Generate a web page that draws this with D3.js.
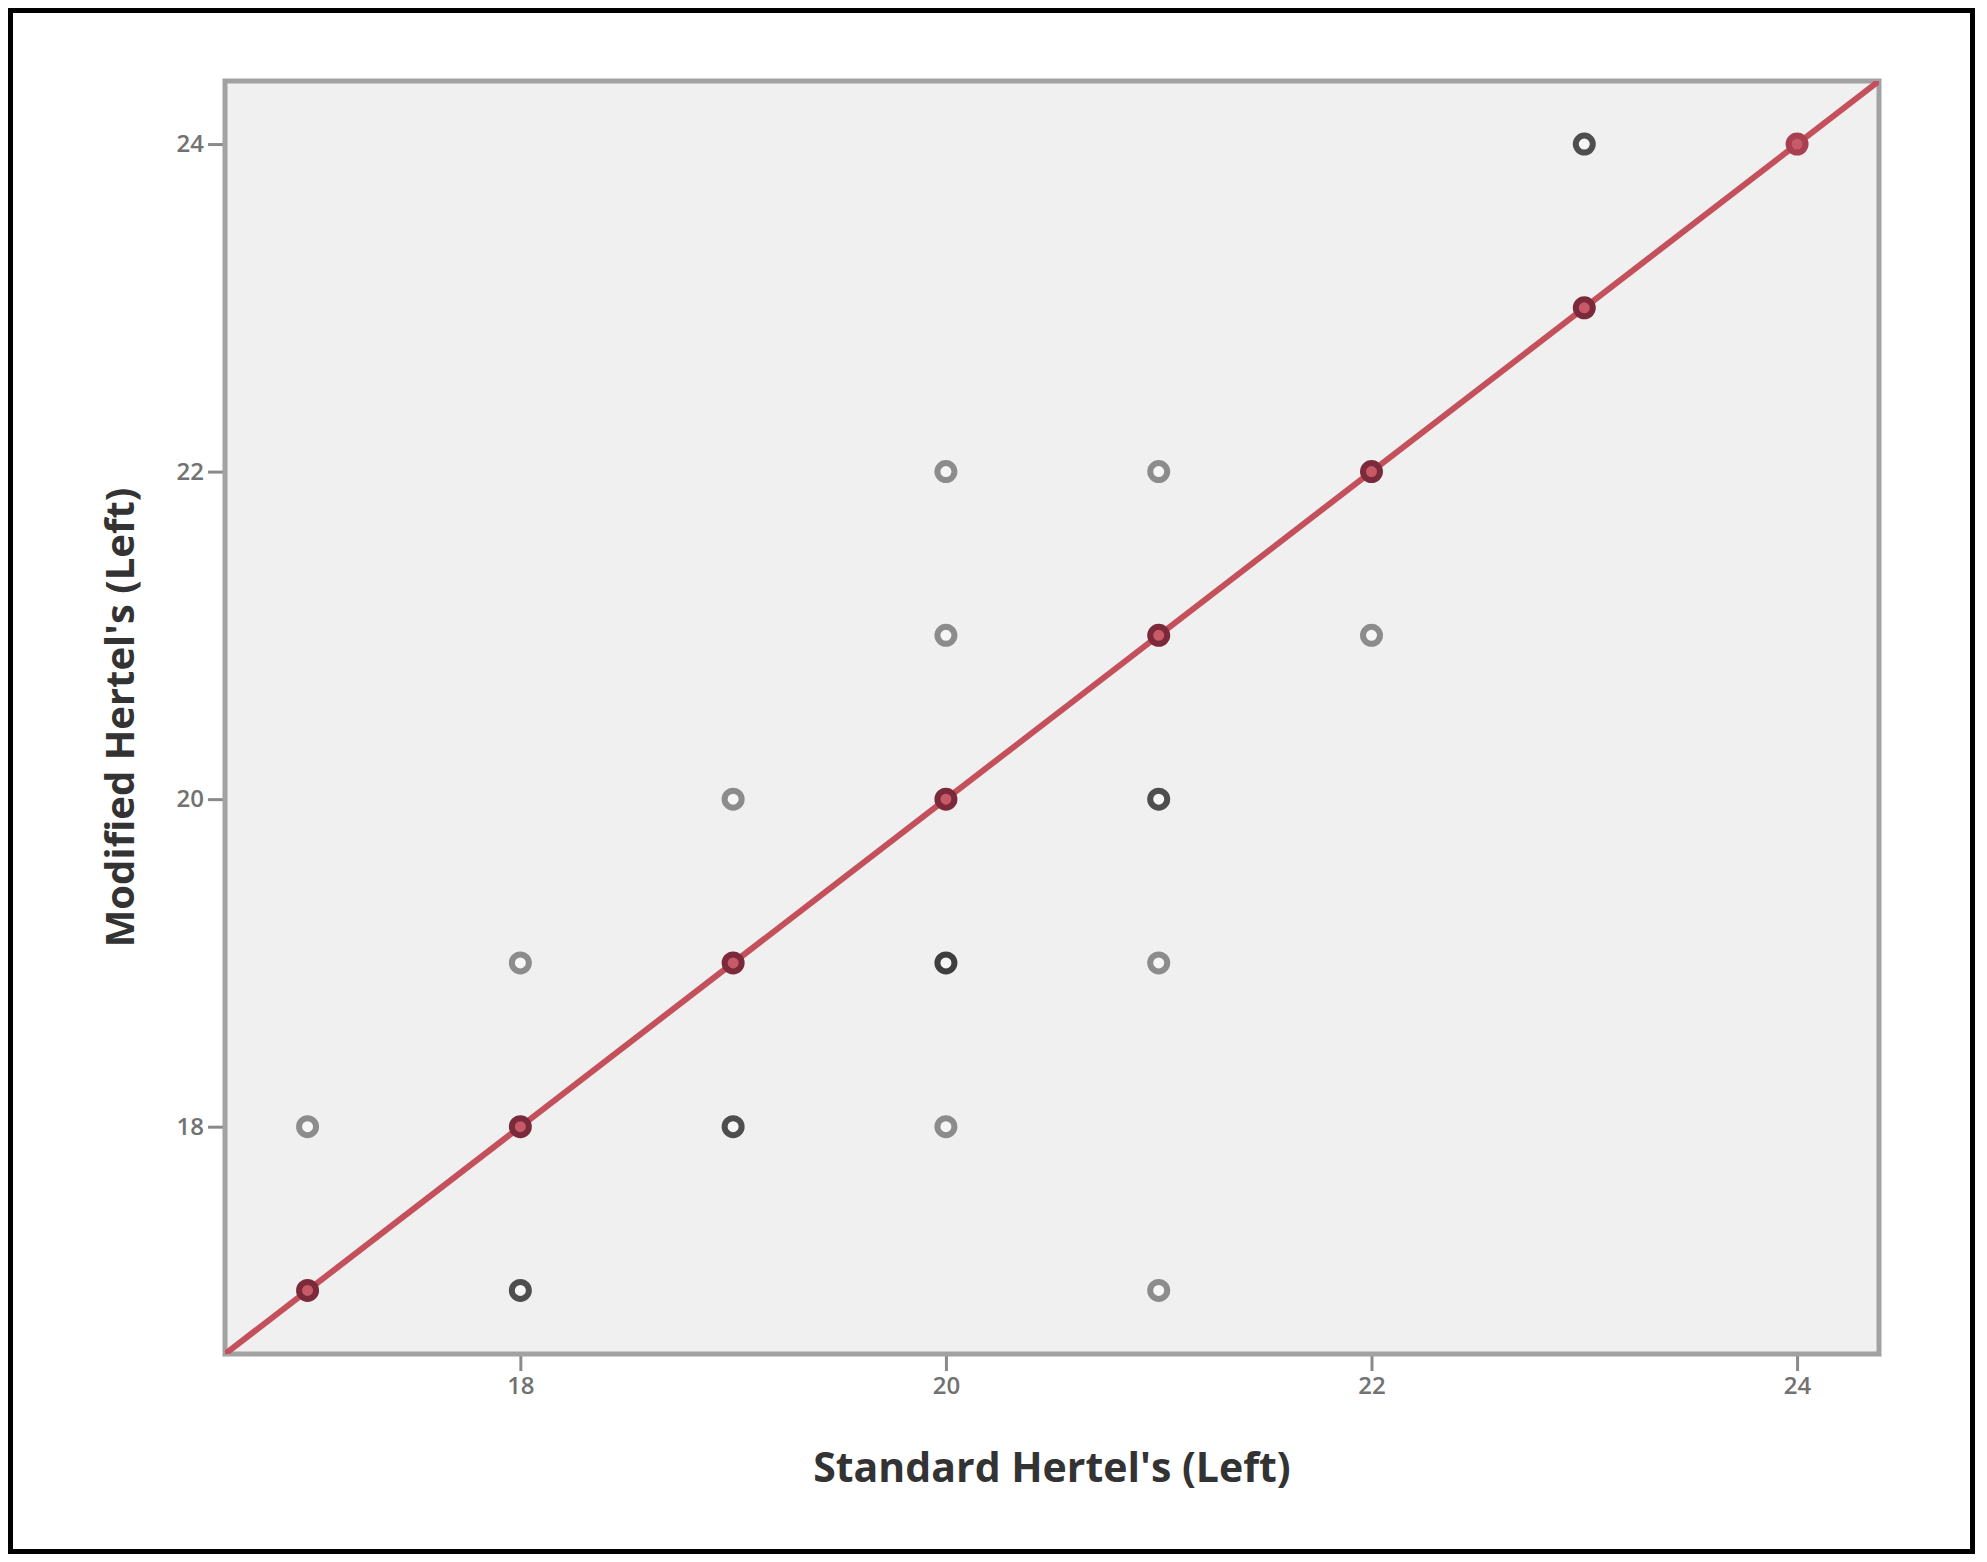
<!DOCTYPE html>
<html>
<head>
<meta charset="utf-8">
<script src="https://cdn.jsdelivr.net/npm/d3@7"></script>
<style>
  html, body { margin: 0; padding: 0; background: #ffffff; }
  svg { display: block; }
</style>
</head>
<body>
<script>
// ---- Data ----
const standardLeft = [17, 17, 18, 18, 18, 19, 19, 19, 20, 20, 20, 20, 20, 21, 21, 21, 21, 21, 22, 22, 23, 23, 24];
const modifiedLeft = [17, 18, 17, 18, 19, 18, 19, 20, 18, 19, 20, 21, 22, 17, 19, 20, 21, 22, 21, 22, 23, 24, 24];
const pointCounts  = [2, 1, 2, 2, 1, 2, 2, 1, 1, 3, 2, 1, 1, 1, 1, 2, 2, 1, 1, 2, 2, 2, 1];
const xTickValues = [18, 20, 22, 24];
const yTickValues = [18, 20, 22, 24];
const axisDomain = [16.612, 24.385];
const xTitle = "Standard Hertel's (Left)";
const yTitle = "Modified Hertel's (Left)";

const W = 1987, H = 1562;
const plot = { left: 225, top: 81, right: 1879, bottom: 1354 };

const svg = d3.select("body").append("svg").attr("width", W).attr("height", H);

// outer black border
svg.append("rect")
  .attr("x", 10.5).attr("y", 10.5)
  .attr("width", 1962).attr("height", 1541)
  .attr("fill", "#ffffff").attr("stroke", "#000000").attr("stroke-width", 5);

const x = d3.scaleLinear().domain(axisDomain).range([plot.left, plot.right]);
const y = d3.scaleLinear().domain(axisDomain).range([plot.bottom, plot.top]);

// plot background
svg.append("rect")
  .attr("x", plot.left).attr("y", plot.top)
  .attr("width", plot.right - plot.left).attr("height", plot.bottom - plot.top)
  .attr("fill", "#f0f0f0");

// axes
const fontFam = "'Open Sans', 'DejaVu Sans', sans-serif";
const xAxis = svg.append("g")
  .attr("transform", `translate(0,${plot.bottom})`)
  .call(d3.axisBottom(x).tickValues(xTickValues).tickSize(17).tickSizeOuter(0).tickPadding(6).tickFormat(d3.format("d")));
const yAxis = svg.append("g")
  .attr("transform", `translate(${plot.left},0)`)
  .call(d3.axisLeft(y).tickValues(yTickValues).tickSize(17).tickSizeOuter(0).tickPadding(4).tickFormat(d3.format("d")));
[xAxis, yAxis].forEach(g => {
  g.select(".domain").remove();
  g.selectAll(".tick line").attr("stroke", "#8a8a8a").attr("stroke-width", 3);
  g.selectAll(".tick text")
    .attr("fill", "#727272")
    .style("font-family", fontFam)
    .style("font-size", "24px")
    .style("font-weight", "600");
});

// frame
svg.append("rect")
  .attr("x", plot.left).attr("y", plot.top)
  .attr("width", plot.right - plot.left).attr("height", plot.bottom - plot.top)
  .attr("fill", "none").attr("stroke", "#a2a2a2").attr("stroke-width", 5);

// clip
svg.append("clipPath").attr("id", "clip")
  .append("rect")
  .attr("x", plot.left).attr("y", plot.top)
  .attr("width", plot.right - plot.left).attr("height", plot.bottom - plot.top);

const data = standardLeft.map((s, i) => ({ s, m: modifiedLeft[i], c: pointCounts[i] }));

const gPts = svg.append("g").attr("clip-path", "url(#clip)");

// off-diagonal points
gPts.selectAll("circle.off")
  .data(data.filter(d => d.s !== d.m))
  .join("circle")
  .attr("class", "off")
  .attr("cx", d => x(d.s))
  .attr("cy", d => y(d.m))
  .attr("r", 8.5)
  .attr("fill", "#f6f6f6")
  .attr("stroke", d => d.c >= 3 ? "#3e3e3e" : d.c === 2 ? "#4e4e4e" : "#8c8c8c")
  .attr("stroke-width", 6);

// identity line
gPts.append("line")
  .attr("x1", x(axisDomain[0])).attr("y1", y(axisDomain[0]))
  .attr("x2", x(axisDomain[1])).attr("y2", y(axisDomain[1]))
  .attr("stroke", "#c4505c").attr("stroke-width", 6);

// on-diagonal points
gPts.selectAll("circle.on")
  .data(data.filter(d => d.s === d.m))
  .join("circle")
  .attr("class", "on")
  .attr("cx", d => x(d.s))
  .attr("cy", d => y(d.m))
  .attr("r", 8.5)
  .attr("fill", "#c85a68")
  .attr("stroke", d => d.c >= 2 ? "#7a2a3a" : "#a8404f")
  .attr("stroke-width", 6);

// titles
svg.append("text")
  .attr("x", (plot.left + plot.right) / 2)
  .attr("y", 1482)
  .attr("text-anchor", "middle")
  .attr("fill", "#333333")
  .style("font-family", fontFam)
  .style("font-size", "41px")
  .style("font-weight", "700")
  .text(xTitle);

svg.append("text")
  .attr("transform", `translate(134,${(plot.top + plot.bottom) / 2}) rotate(-90)`)
  .attr("text-anchor", "middle")
  .attr("fill", "#333333")
  .style("font-family", fontFam)
  .style("font-size", "40px")
  .style("font-weight", "700")
  .text(yTitle);
</script>
</body>
</html>
